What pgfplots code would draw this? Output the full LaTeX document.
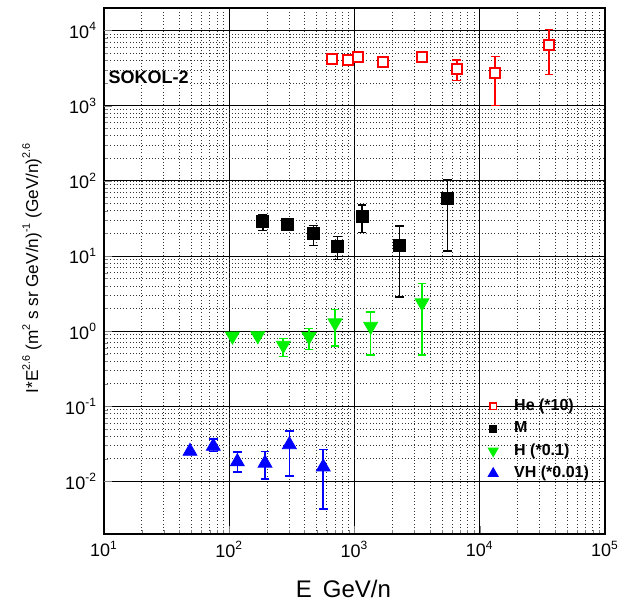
\documentclass[border=0pt]{standalone}
\usepackage{pgfplots}
\usepackage{pgfplotstable}
\pgfplotsset{compat=1.18}
\usepackage{fontspec}
\setmainfont{Liberation Sans}
\definecolor{hgreen}{RGB}{0,240,0}
\newcommand\sups[1]{\raisebox{0.9ex}{\fontsize{5.4}{6}\selectfont #1}}

% He (*10)
\pgfplotstableread{
x y ep em
658 4200 0 0
883 4070 0 0
1062 4470 0 0
1690 3790 0 0
3435 4410 0 0
6550 3100 930 920
13300 2760 1790 1750
35700 6460 3840 3860
}\hetab
% M
\pgfplotstableread{
x y ep em
185 28.6 6.4 6.7
291 26.1 0 0
469 19.8 5.7 6.0
729 13.6 4.6 4.6
1148 34 14 13.4
2280 14 11 11.16
5540 58 46 46.3
}\mtab
% H (*0.1)
\pgfplotstableread{
x y ep em
106 0.86 0 0
169 0.87 0 0
270 0.65 0.15 0.19
433 0.85 0.24 0.28
699 1.29 0.66 0.66
1346 1.16 0.63 0.68
3460 2.39 1.91 1.91
}\htab
% VH (*0.01)
\pgfplotstableread{
x y ep em
48.6 0.0252 0 0
74.6 0.0294 0.0076 0.0044
116 0.0183 0.0064 0.0049
193 0.0175 0.0077 0.0067
302 0.0309 0.0161 0.0191
563 0.0156 0.0112 0.0113
}\vhtab

\pgfplotsset{errs/.style={error bars/.cd, y dir=both, y explicit,
  error bar style={line width=0.8pt}, error mark options={rotate=90, mark size=2.2pt, line width=0.8pt}}}

\begin{document}
\begin{tikzpicture}
\begin{axis}[
  xmode=log, ymode=log,
  scale only axis, width=250.5pt, height=263pt,
  xmin=10, xmax=1e5, ymin=2e-3, ymax=2e4,
  clip=false,
  axis line style={line width=0.8pt},
  tick align=inside, tick pos=left,
  major tick length=4pt, minor tick length=2pt,
  xtick={10,100,1000,10000,100000},
  xticklabels={10\textsuperscript{1},10\textsuperscript{2},10\textsuperscript{3},10\textsuperscript{4},10\textsuperscript{5}},
  ytick={0.01,0.1,1,10,100,1000,10000},
  yticklabels={10\textsuperscript{-2},10\textsuperscript{-1},10\textsuperscript{0},10\textsuperscript{1},10\textsuperscript{2},10\textsuperscript{3},10\textsuperscript{4}},
  extra y ticks={0.01,100,1000,10000},
  extra y tick labels={},
  extra y tick style={grid style={gray!85, line width=1pt}},
  tick label style={font=\fontsize{9}{10}\selectfont},
  grid=both,
  major grid style={black, line width=0.5pt},
  minor grid style={black!80, line width=0.4pt, dash pattern=on 0.4pt off 1.2pt},
  xlabel={E\hspace{5.5pt}GeV/n},
  ylabel={I*E\sups{2.6} (m\sups{2} s sr GeV/n)\sups{-1} (GeV/n)\sups{2.6}},
  xlabel style={font=\fontsize{12}{14}\selectfont, at={(axis description cs:0.478,-0.104)}, anchor=center},
  ylabel style={font=\fontsize{8.6}{10}\selectfont, at={(axis description cs:-0.1437,0.505)}, anchor=center},
  legend cell align=left,
  legend style={draw=none, fill=none, at={(rel axis cs:0.766,0.265)}, anchor=north west,
    inner sep=0pt, font=\bfseries\fontsize{8}{9}\selectfont, row sep=0pt,
    /tikz/every odd column/.append style={column sep=6pt}},
]
\addlegendimage{only marks, red, mark=square*, mark options={fill=white, line width=0.8pt}, mark size=1.6pt}
\addlegendentry{He (*10)}
\addlegendimage{only marks, black, mark=square*, mark size=1.8pt}
\addlegendentry{M}
\addlegendimage{only marks, hgreen, mark=triangle*, mark options={rotate=180}, mark size=2.9pt}
\addlegendentry{H (*0.1)}
\addlegendimage{only marks, blue, mark=triangle*, mark size=2.9pt}
\addlegendentry{VH (*0.01)}

\addplot[forget plot, only marks, red, mark=square*, mark options={fill=white, line width=1pt}, mark size=2.5pt, errs]
  table[x=x, y=y, y error plus=ep, y error minus=em] {\hetab};
\addplot[forget plot, only marks, black, mark=square*, mark size=3pt, errs]
  table[x=x, y=y, y error plus=ep, y error minus=em] {\mtab};
\addplot[forget plot, only marks, hgreen, mark=triangle*, mark options={rotate=180}, mark size=4pt, errs]
  table[x=x, y=y, y error plus=ep, y error minus=em] {\htab};
\addplot[forget plot, only marks, blue, mark=triangle*, mark size=4pt, errs]
  table[x=x, y=y, y error plus=ep, y error minus=em] {\vhtab};
\node[anchor=west, inner sep=0pt, font=\bfseries\fontsize{9}{10}\selectfont, fill=white] at (axis cs:10.8,2370) {SOKOL-2};
\end{axis}
\path (current axis.south west) ++(-52pt,-33pt) rectangle ([shift={(11pt,4pt)}]current axis.north east);
\end{tikzpicture}
\end{document}
